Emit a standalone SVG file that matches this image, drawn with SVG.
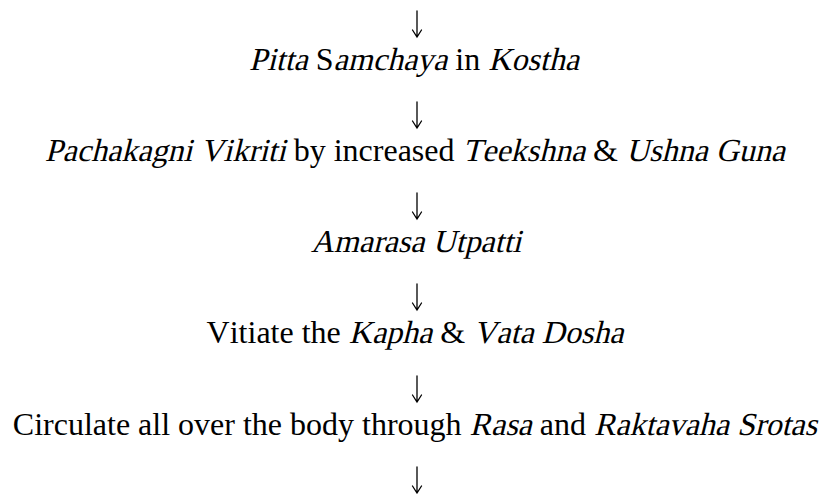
<svg xmlns="http://www.w3.org/2000/svg" width="825" height="494" viewBox="0 0 825 494">
<style>
text{font-family:"Liberation Serif","Times New Roman",serif;font-size:32px;fill:#000;font-kerning:none}
.a{fill:none;stroke:#000;stroke-width:1.3;stroke-linecap:round;stroke-linejoin:miter}
</style>
<defs>
<g id="arr"><path class="a" d="M0,0 V26 M-4.5,19 L0,26 L4.5,19"/></g>
</defs>
<rect width="825" height="494" fill="#fff"/>
<g id="connectors">
<use href="#arr" x="417" y="11"/>
<use href="#arr" x="417" y="102"/>
<use href="#arr" x="417" y="193"/>
<use href="#arr" x="417" y="284"/>
<use href="#arr" x="417" y="376"/>
<use href="#arr" x="417" y="467"/>
</g>
<g id="n1">
<text transform="translate(249.1,70) skewX(-14)">Pitta</text>
<text x="315.8" y="70">S</text>
<text transform="translate(333.6,70) skewX(-14)">amchaya</text>
<text x="455.3" y="70">in</text>
<text transform="translate(488.2,70) skewX(-14)">Kostha</text>
</g>
<g id="n2">
<text transform="translate(44.8,161) skewX(-14)">Pachakagni Vikriti</text>
<text x="293.7" y="161">by increased</text>
<text transform="translate(462.5,161) skewX(-14)">Teekshna</text>
<text x="593.1" y="161">&amp;</text>
<text transform="translate(626,161) skewX(-14)">Ushna Guna</text>
</g>
<g id="n3">
<text transform="translate(310.7,252) skewX(-14)">Amarasa Utpatti</text>
</g>
<g id="n4">
<text x="206.6" y="343">Vitiate the</text>
<text transform="translate(348.8,343) skewX(-14)">Kapha</text>
<text x="440.3" y="343">&amp;</text>
<text transform="translate(473.2,343) skewX(-14)">Vata Dosha</text>
</g>
<g id="n5">
<text x="12.8" y="435">Circulate all over the body through</text>
<text transform="translate(469.6,435) skewX(-14)">Rasa</text>
<text x="539.8" y="435">and</text>
<text transform="translate(594,435) skewX(-14)">Raktavaha Srotas</text>
</g>
</svg>
